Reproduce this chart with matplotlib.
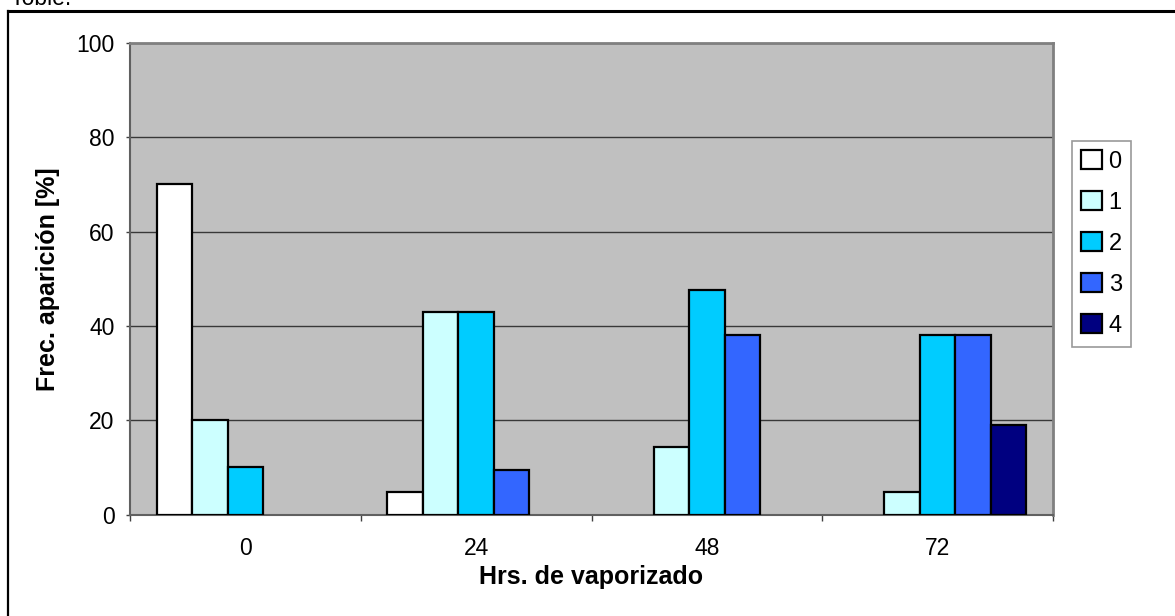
import numpy as np
import matplotlib.pyplot as plt
from matplotlib.patches import Patch
from matplotlib.lines import Line2D

plt.rcParams['font.family'] = ['Liberation Sans', 'DejaVu Sans']

horas = ['0', '24', '48', '72']
clases = ['0', '1', '2', '3', '4']
frec = [
    [70.0, 4.76, 0.0, 0.0],      # clase 0
    [20.0, 42.86, 14.29, 4.76],  # clase 1
    [10.0, 42.86, 47.62, 38.10], # clase 2
    [0.0, 9.52, 38.10, 38.10],   # clase 3
    [0.0, 0.0, 0.0, 19.05],      # clase 4
]
colores = ['#FFFFFF', '#CCFFFF', '#00CCFF', '#3366FF', '#000080']

W, H = 1175, 616
fig = plt.figure(figsize=(W / 100, H / 100), dpi=100)
ax = fig.add_axes([130 / W, 1 - 514.5 / H, (1053 - 130) / W, (514.5 - 43) / H])
ax.set_facecolor('#C0C0C0')

x = np.arange(len(horas))
ancho = 1 / 6.5
for i, serie in enumerate(frec):
    vals = np.array(serie)
    bordes = ['black' if v > 0 else 'none' for v in vals]
    ax.bar(x + (i - 2) * ancho, vals, ancho, color=colores[i],
           edgecolor=bordes, linewidth=1.6, zorder=3)

ax.set_xlim(-0.5, len(horas) - 0.5)
ax.set_ylim(0, 100)
ax.set_yticks(np.arange(0, 101, 20))
ax.yaxis.grid(True, color='#383838', linewidth=1.0, zorder=1)
ax.set_axisbelow(True)

# ticks between categories, labels at centers
ax.set_xticks(np.arange(-0.5, len(horas)), minor=False)
ax.set_xticklabels([])
ax.set_xticks(x, minor=True)
ax.set_xticklabels(horas, minor=True)
ax.tick_params(axis='x', which='major', direction='out', length=4.3, width=1, color='#404040')
ax.tick_params(axis='x', which='minor', length=0, pad=16, labelsize=16.5)
ax.tick_params(axis='y', direction='out', length=3, width=1, color='#404040', pad=8, labelsize=16.5)

for lado in ['top', 'right']:
    ax.spines[lado].set_color('#808080')
    ax.spines[lado].set_linewidth(2)
ax.spines['left'].set_color('#606060')
ax.spines['bottom'].set_color('#606060')
ax.spines['left'].set_linewidth(1.5)
ax.spines['bottom'].set_linewidth(1.5)

ax.set_xlabel('Hrs. de vaporizado', fontsize=18, fontweight='bold', labelpad=4)
ax.set_ylabel('Frec. aparición [%]', fontsize=18, fontweight='bold', labelpad=12)

handles = [Patch(facecolor=c, edgecolor='black', linewidth=1.6) for c in colores]
leg = fig.legend(handles, clases, loc='upper left', bbox_to_anchor=(1072 / W, 1 - 141 / H),
                 fontsize=17, frameon=True, fancybox=False, edgecolor='#808080',
                 handlelength=0.85, handleheight=0.85, handletextpad=0.3,
                 labelspacing=0.78, borderpad=0.4, borderaxespad=0)
leg.get_frame().set_linewidth(1.2)

# outer frame of the chart object
fig.add_artist(Line2D([8 / W, 8 / W], [0, 1 - 11 / H], color='black', linewidth=1.6))
fig.add_artist(Line2D([8 / W, 1], [1 - 11 / H, 1 - 11 / H], color='black', linewidth=2.2))
fig.text(15 / W, 1 - 5 / H, 'roble.', fontsize=16.5, va='baseline', ha='left')

fig.savefig('out.png', dpi=100)
